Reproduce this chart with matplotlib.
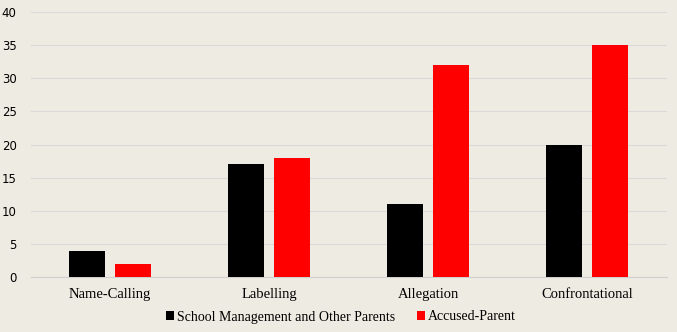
import numpy as np
import matplotlib.pyplot as plt

categories = ["Name-Calling", "Labelling", "Allegation", "Confrontational"]
school = [4, 17, 11, 20]
accused = [2, 18, 32, 35]
series_names = ["School Management and Other Parents", "Accused-Parent"]

bg = "#EEEBE2"
fig = plt.figure(figsize=(6.77, 3.32), dpi=100, facecolor=bg)
ax = fig.add_axes([30.5 / 677, 55 / 332, 636 / 677, 265 / 332], facecolor=bg)

x = np.arange(len(categories))
w = 0.226
off = 0.145
ax.bar(x - off, school, w, color="black", label=series_names[0], zorder=3)
ax.bar(x + off, accused, w, color="#FF0000", label=series_names[1], zorder=3)

ax.set_xlim(-0.5, len(categories) - 0.5)
ax.set_ylim(0, 40)
ax.set_yticks(range(0, 41, 5))
ax.grid(axis="y", color="#D9D9D9", linewidth=0.8, zorder=0)
for s in ["top", "right", "left"]:
    ax.spines[s].set_visible(False)
ax.spines["bottom"].set_color("#D0D0D0")
ax.tick_params(axis="both", length=0)
ax.tick_params(axis="y", labelsize=8.5, pad=10)
for t in ax.get_yticklabels():
    t.set_family("DejaVu Sans")
ax.set_xticks(x)
ax.set_xticklabels(categories, family="Liberation Serif", fontsize=10.5)
ax.tick_params(axis="x", pad=8)

leg = fig.legend(loc="center", bbox_to_anchor=(341 / 677, 1 - 317 / 332), ncol=2,
                 frameon=False, handlelength=0.55, handleheight=0.55, handletextpad=0.2,
                 columnspacing=1.6, prop={"family": "Liberation Serif", "size": 10})

fig.savefig("out.png", dpi=100, facecolor=bg)
